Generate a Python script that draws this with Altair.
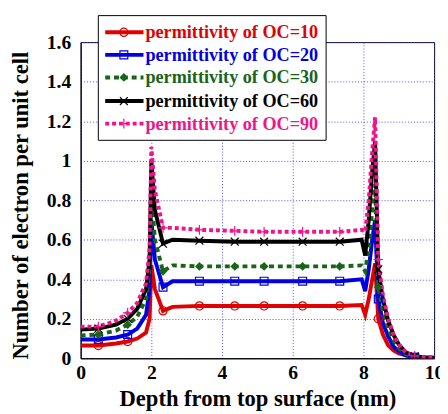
import altair as alt
import pandas as pd

# ---------------- data ----------------
DEPTH = [0, 0.5, 1.0, 1.33, 1.6, 1.85, 1.95, 2.0, 2.1, 2.33, 2.6, 3.36, 4.36,
         5.19, 6.28, 7.33, 7.95, 8.05, 8.15, 8.25, 8.33, 8.42, 8.55, 8.7,
         8.85, 9.0, 9.2, 9.45, 9.7, 10]

OC10 = [0.065, 0.065, 0.075, 0.085, 0.10, 0.13, 0.20, 0.47, 0.35, 0.24, 0.26,
        0.265, 0.265, 0.265, 0.265, 0.265, 0.27, 0.22, 0.30, 0.40, 0.48, 0.20,
        0.12, 0.065, 0.04, 0.025, 0.015, 0.005, 0.002, 0.0]
OC20 = [0.095, 0.095, 0.105, 0.12, 0.15, 0.22, 0.35, 0.70, 0.50, 0.36, 0.39,
        0.39, 0.39, 0.39, 0.39, 0.39, 0.40, 0.34, 0.45, 0.60, 0.70, 0.30,
        0.18, 0.11, 0.06, 0.035, 0.015, 0.005, 0.002, 0.0]
OC30 = [0.115, 0.12, 0.14, 0.17, 0.21, 0.30, 0.45, 0.85, 0.60, 0.44, 0.47,
        0.465, 0.465, 0.465, 0.465, 0.465, 0.47, 0.44, 0.55, 0.75, 0.88, 0.36,
        0.24, 0.15, 0.09, 0.05, 0.02, 0.007, 0.003, 0.0]
OC60 = [0.145, 0.15, 0.17, 0.20, 0.25, 0.35, 0.50, 1.00, 0.75, 0.58, 0.60,
        0.595, 0.59, 0.59, 0.59, 0.59, 0.60, 0.52, 0.70, 0.95, 1.10, 0.45,
        0.30, 0.19, 0.12, 0.07, 0.03, 0.01, 0.005, 0.003]
OC90 = [0.16, 0.16, 0.19, 0.23, 0.28, 0.38, 0.55, 1.07, 0.85, 0.66, 0.66,
        0.65, 0.645, 0.64, 0.64, 0.64, 0.65, 0.64, 0.80, 1.05, 1.22, 0.50,
        0.32, 0.20, 0.12, 0.07, 0.03, 0.012, 0.006, 0.005]

MARKER_DEPTHS = [0.5, 1.33, 2.33, 3.36, 4.36, 5.19, 6.28, 7.33, 8.42, 9.45]

SERIES = ["permittivity of OC=10", "permittivity of OC=20",
          "permittivity of OC=30", "permittivity of OC=60",
          "permittivity of OC=90"]
VALUES = [OC10, OC20, OC30, OC60, OC90]

X_TICKS = [0, 2, 4, 6, 8, 10]
Y_TICKS = [0, 0.2, 0.4, 0.6, 0.8, 1.0, 1.2, 1.4, 1.6]

# ---------------- styles ----------------
COLORS = ["#e00000", "#0000e0", "#196419", "#000000", "#f0148c"]
DASHES = [None, None, [5, 4], None, [4, 3]]
XMARK = "M-1,-1L1,1M-1,1L1,-1"
PLUS = "M0,-1.1L0,1.1M-1.1,0L1.1,0"
SHAPES = ["circle", "square", "diamond", XMARK, PLUS]
FILLED = [False, False, True, False, False]
SIZES = [70, 64, 80, 64, 80]
LEG_Y = [-10, 13, 36, 60, 83]
FONT = "Liberation Serif"

axis_style = dict(
    labelFont=FONT, labelFontSize=20, labelFontWeight="bold", labelColor="black",
    titleFont=FONT, titleFontSize=23, titleFontWeight="bold", titleColor="black",
    grid=True, gridColor="#3a3aff", gridDash=[1, 2], gridOpacity=0.9,
    gridWidth=1, domainColor="black", domainWidth=1, ticks=False,
)

xscale = alt.Scale(domain=[0, 10], nice=False, zero=False)
yscale = alt.Scale(domain=[0, 1.6], nice=False)
xaxis = alt.Axis(values=X_TICKS, title="Depth from top surface (nm)",
                 labelFlush=False, labelPadding=5, titlePadding=5,
                 format="d", **axis_style)
yaxis = alt.Axis(values=Y_TICKS, title="Number of electron per unit cell",
                 labelPadding=10, titlePadding=14, titleY=166,
                 format=".1~f", **axis_style)

layers = []
for i, name in enumerate(SERIES):
    df = pd.DataFrame({"x": DEPTH, "y": VALUES[i], "s": name})
    line_kw = dict(color=COLORS[i], strokeWidth=4, clip=True)
    if DASHES[i] is not None:
        line_kw["strokeDash"] = DASHES[i]
    layers.append(
        alt.Chart(df).mark_line(**line_kw).encode(
            x=alt.X("x:Q", scale=xscale, axis=xaxis),
            y=alt.Y("y:Q", scale=yscale, axis=yaxis),
        )
    )
for i, name in enumerate(SERIES):
    df = pd.DataFrame({"x": DEPTH, "y": VALUES[i], "s": name})
    dm = df[df["x"].isin(MARKER_DEPTHS)]
    pt_kw = dict(shape=SHAPES[i], size=SIZES[i], filled=FILLED[i],
                 color=COLORS[i], strokeWidth=1.2, opacity=1, clip=True)
    layers.append(
        alt.Chart(dm).mark_point(**pt_kw).encode(
            x=alt.X("x:Q", scale=xscale, axis=xaxis),
            y=alt.Y("y:Q", scale=yscale, axis=yaxis),
        )
    )

# ---------------- legend (drawn by hand, matching the boxed legend) ----------------
one = pd.DataFrame({"a": [0]})
layers.append(
    alt.Chart(one).mark_rect(fill="white", stroke="black", strokeWidth=1).encode(
        x=alt.value(18), x2=alt.value(250), y=alt.value(-27), y2=alt.value(100)
    )
)
for i, name in enumerate(SERIES):
    rule_kw = dict(color=COLORS[i], strokeWidth=4)
    if DASHES[i] is not None:
        rule_kw["strokeDash"] = DASHES[i]
    layers.append(
        alt.Chart(one).mark_rule(**rule_kw).encode(
            x=alt.value(25), x2=alt.value(64), y=alt.value(LEG_Y[i])
        )
    )
    layers.append(
        alt.Chart(one).mark_point(shape=SHAPES[i], size=SIZES[i],
                                  filled=FILLED[i], color=COLORS[i],
                                  strokeWidth=1.2, opacity=1).encode(
            x=alt.value(44), y=alt.value(LEG_Y[i])
        )
    )
    layers.append(
        alt.Chart(pd.DataFrame({"label": [name]})).mark_text(
            align="left", baseline="middle", font=FONT, fontSize=18.5,
            fontWeight="bold", color=COLORS[i]
        ).encode(x=alt.value(66), y=alt.value(LEG_Y[i]), text="label:N")
    )

chart = alt.layer(*layers).properties(
    width=360, height=322,
    autosize=alt.AutoSizeParams(type="none"),
    padding={"left": 74, "top": 31, "right": 6, "bottom": 53},
).configure_view(
    stroke="black", strokeWidth=1
)

chart.save("out.html", embed_options={"renderer": "svg", "actions": False})
